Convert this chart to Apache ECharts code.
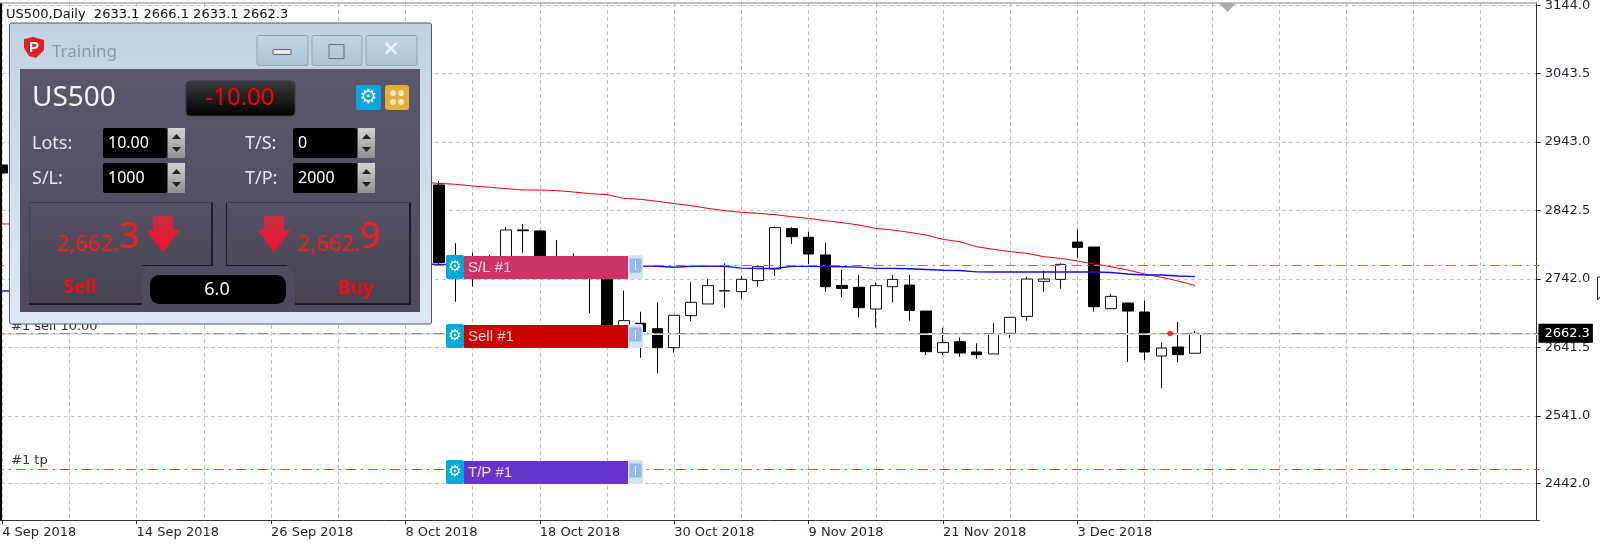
<!DOCTYPE html>
<html>
<head>
<meta charset="utf-8">
<title>US500 Daily</title>
<script src="https://cdn.jsdelivr.net/npm/echarts@6/dist/echarts.min.js"></script>
<style>
html, body { margin: 0; padding: 0; background: #fff; }
#chart { width: 1600px; height: 547px; }
</style>
</head>
<body>
<div id="chart"></div>
<script>
// trading days, the axis keeps running blank to the right of the last bar
const dates = [
  '4 Sep 2018','5 Sep 2018','6 Sep 2018','7 Sep 2018','10 Sep 2018','11 Sep 2018','12 Sep 2018','13 Sep 2018',
  '14 Sep 2018','17 Sep 2018','18 Sep 2018','19 Sep 2018','20 Sep 2018','21 Sep 2018','24 Sep 2018','25 Sep 2018',
  '26 Sep 2018','27 Sep 2018','28 Sep 2018','1 Oct 2018','2 Oct 2018','3 Oct 2018','4 Oct 2018','5 Oct 2018',
  '8 Oct 2018','9 Oct 2018','10 Oct 2018','11 Oct 2018','12 Oct 2018','15 Oct 2018','16 Oct 2018','17 Oct 2018',
  '18 Oct 2018','19 Oct 2018','22 Oct 2018','23 Oct 2018','24 Oct 2018','25 Oct 2018','26 Oct 2018','29 Oct 2018',
  '30 Oct 2018','31 Oct 2018','1 Nov 2018','2 Nov 2018','5 Nov 2018','6 Nov 2018','7 Nov 2018','8 Nov 2018',
  '9 Nov 2018','12 Nov 2018','13 Nov 2018','14 Nov 2018','15 Nov 2018','16 Nov 2018','19 Nov 2018','20 Nov 2018',
  '21 Nov 2018','22 Nov 2018','23 Nov 2018','26 Nov 2018','27 Nov 2018','28 Nov 2018','29 Nov 2018','30 Nov 2018',
  '3 Dec 2018','4 Dec 2018','5 Dec 2018','6 Dec 2018','7 Dec 2018','10 Dec 2018','11 Dec 2018','12 Dec 2018',
  '','','','','','','','','','','','','','','','','','','',''
];

// null = bar sits behind the trading panel, nothing to read
const opens = [2909.4, null, null, null, null, null, null, null, null, null, null, null, null,
  null, null, null, null, null, null, null, null, null, null, null, null, null,
  2880.1, 2770, 2770, 2770, 2765, 2814, 2812.6, 2770, 2770, 2770, 2755, 2670, 2677,
  2669.2, 2641.3, 2688.3, 2705.4, 2724.5, 2723.5, 2739.7, 2756.8, 2816, 2803.3, 2777.3, 2732.7, 2729.8,
  2698, 2730.8, 2733.2, 2695, 2634.4, 2650, 2634.9, 2632, 2662.3, 2687.2, 2738.6, 2741.5, 2796.3,
  2789, 2698.5, 2706.8, 2693.6, 2629, 2642.2, 2633.1];
const closes = [2897.7, null, null, null, null, null, null, null, null, null, null, null, null,
  null, null, null, null, null, null, null, null, null, null, null, null, null,
  2766.1, 2755, 2755, 2755, 2814, 2813, 2765, 2755, 2755, 2755, 2665, 2680.9, 2665,
  2641.3, 2688.8, 2707.8, 2732.3, 2725, 2741.6, 2760.2, 2817.5, 2804.2, 2778.8, 2730.8, 2728.3, 2700,
  2732.3, 2741.5, 2696, 2635.4, 2648.6, 2633.4, 2631, 2661.8, 2685.8, 2742, 2742, 2763.6, 2788.5,
  2701.4, 2716.6, 2695, 2634.9, 2640.7, 2631, 2662.3];
const lows = [2884, null, null, null, null, null, null, null, null, null, null, null, null,
  null, null, null, null, null, null, null, null, null, null, null, null, null,
  2762.6, 2708.8, 2731, 2750, 2760, 2780.8, 2760, 2750, 2750, 2691.7, 2660, 2650, 2626.6,
  2603.6, 2634, 2680.4, 2705.4, 2700, 2712.8, 2730.8, 2746.5, 2793.5, 2764.1, 2723.4, 2715.1, 2685.8,
  2670.6, 2707.8, 2680.9, 2630.5, 2630.5, 2628, 2625, 2632, 2655, 2680.9, 2723.4, 2727.8, 2772.9,
  2694, 2698.5, 2620.2, 2623, 2581.5, 2620, 2633.1];
const highs = [2924, null, null, null, null, null, null, null, null, null, null, null, null,
  null, null, null, null, null, null, null, null, null, null, null, null, null,
  2886, 2794.5, 2781, 2777.8, 2818, 2822.8, 2813, 2799.4, 2779.8, 2773, 2760, 2725, 2694,
  2707.8, 2688.8, 2737.2, 2742.1, 2765, 2746.5, 2761, 2819, 2818, 2811.6, 2795.4, 2755.2, 2747.9,
  2737.1, 2747.9, 2747.9, 2695, 2670.6, 2656.4, 2647.6, 2677, 2685.8, 2745.5, 2754.3, 2765, 2815,
  2789, 2720, 2706.8, 2710.2, 2649, 2679, 2666.1];

const redAvg = [2822.8, 2823, null, null, null, null, null, null, null, null, null, null, null,
  null, null, null, null, null, null, null, null, null, null, null, null, 2884,
  2882.5, 2881, 2878.6, 2876.7, 2874.7, 2872.7, 2872.7, 2871.8, 2869.8, 2867.4, 2865.9, 2860.5, 2859,
  2856.1, 2852.7, 2849.7, 2845.8, 2842.4, 2840, 2838.5, 2836.5, 2833.6, 2831, 2827.7, 2824.7, 2821.3,
  2816.4, 2814, 2810.5, 2806.6, 2800.3, 2796.8, 2789.5, 2785.6, 2782.2, 2779.7, 2774.8, 2772.4, 2768.5,
  2764.1, 2760.1, 2755.2, 2749.4, 2744.5, 2739.1, 2732.7];
const blueAvg = [2724.4, 2724.6, null, null, null, null, null, null, null, null, null, null, null,
  null, null, null, null, null, null, null, null, null, null, null, null, 2764,
  2763.6, 2763, null, null, null, null, null, null, null, null, null, null, 2761,
  2760.7, 2759.4, 2760.8, 2760.8, 2760.8, 2758, 2757.5, 2757.5, 2760.6, 2760.6, 2760.3, 2760.1, 2759.5,
  2757.7, 2757.6, 2757, 2756, 2754.8, 2754.5, 2752.5, 2752.3, 2752.3, 2752.3, 2752.3, 2752.3, 2752.3,
  2752.3, 2751.5, 2749.4, 2748, 2748, 2746.5, 2745.5];

const priceTicks = [3144, 3043.5, 2943, 2842.5, 2742, 2641.5, 2541, 2442];
const slLevel = 2761.7;
const tpLevel = 2462.6;
const sellLevel = 2662.3;
const sellMark = [['11 Dec 2018', 2662]];

const candles = opens.map((o, i) => o === null ? ['-', '-', '-', '-'] : [o, closes[i], lows[i], highs[i]]);

// ---- panel and order boxes are plain drawing on top of the chart
const els = [];
const Z = 50;
function rect(x, y, w, h, fill, r, stroke) {
  els.push({ type: 'rect', z: Z, shape: { x, y, width: w, height: h, r: r || 0 },
    style: { fill, stroke: stroke || null, lineWidth: stroke ? 1 : 0 } });
}
function text(s, x, y, font, fill, align) {
  els.push({ type: 'text', z: Z, style: { text: s, x, y, font, fill, textAlign: align || 'left', textVerticalAlign: 'middle' } });
}
function poly(points, fill) {
  els.push({ type: 'polygon', z: Z, shape: { points }, style: { fill } });
}
function vgrad(a, b) {
  return { type: 'linear', x: 0, y: 0, x2: 0, y2: 1, colorStops: [{ offset: 0, color: a }, { offset: 1, color: b }] };
}
function downArrow(x, y) {
  poly([[x + 7, y], [x + 27, y], [x + 27, y + 14], [x + 34, y + 14], [x + 17, y + 36], [x, y + 14], [x + 7, y + 14]],
    vgrad('#c43040', '#f0102a'));
}
function spinner(x, y) {
  rect(x, y, 17, 30, vgrad('#d4d4d4', '#8e8e8e'));
  poly([[x + 4, y + 11], [x + 13, y + 11], [x + 8.5, y + 6]], '#222');
  poly([[x + 4, y + 19], [x + 13, y + 19], [x + 8.5, y + 24]], '#222');
}
function gearIcon(x, y, w, h, fill, size) {
  rect(x, y, w, h, fill, 2);
  text('\u2699', x + w / 2, y + h / 2, 'bold ' + size + 'px "DejaVu Sans"', '#fff', 'center');
}
function orderBox(y, label, fill) {
  rect(628, y, 15, 24, '#d2e4f8', 2);
  rect(629, y + 3, 13, 15, '#93b8ea', 2, '#cfe0f6');
  els.push({ type: 'line', z: Z, shape: { x1: 635.5, y1: y + 6, x2: 635.5, y2: y + 15 }, style: { stroke: '#fff', lineWidth: 1 } });
  rect(464, y + 1, 164, 23, fill);
  gearIcon(446, y, 18, 24, '#00a8dc', 15);
  text(label, 468, y + 13, '15px "Liberation Sans"', '#f6dde3');
}

// window
rect(9.5, 23, 422, 301, vgrad('#c0d2e2', '#dce8f4'), 2, '#4e5a64');
poly([[24, 39], [33, 37], [44, 40], [44, 50], [36, 58], [29, 56], [24, 48]], '#e02020');
text('P', 34, 48, 'bold 15px "Liberation Sans"', '#fff', 'center');
text('Training', 52, 52, '17px "Noto Sans"', '#8c98a4');
rect(257, 35.5, 51, 30, vgrad('#c2d4e4', '#aec2d6'), 2, '#8fa3b8');
rect(312, 35.5, 50, 30, vgrad('#c2d4e4', '#aec2d6'), 2, '#8fa3b8');
rect(366, 35.5, 51, 30, vgrad('#c2d4e4', '#aec2d6'), 2, '#8fa3b8');
rect(273, 49.5, 18, 5, '#e8e8e8', 1, '#5c6670');
rect(329, 44.5, 15, 14, 'rgba(0,0,0,0)', 0, '#6a7076');
text('\u2715', 391, 51, 'bold 21px "DejaVu Sans"', '#f2f2f2', 'center');

// dark body
rect(20, 69, 400, 243, vgrad('#5b566a', '#4f4a5c'));
text('US500', 32, 98, '28px "Noto Sans"', '#f2f2f6');
rect(186, 81, 109, 35, vgrad('#3c3c3c', '#000'), 4, '#3a3a44');
text('-10.00', 240, 98, '24px "Noto Sans"', '#ff0000', 'center');
gearIcon(356, 85, 25, 25, '#0aa6e0', 20);
rect(385, 85, 24, 25, '#e4ae3a', 3);
[[393, 93], [401, 93], [393, 102], [401, 102]].forEach(p => {
  els.push({ type: 'circle', z: Z, shape: { cx: p[0], cy: p[1], r: 3 }, style: { fill: '#f8e8c0' } });
});

[['Lots:', 32, 144], ['S/L:', 32, 179], ['T/S:', 245, 144], ['T/P:', 245, 179]].forEach(l => {
  text(l[0], l[1], l[2], '18px "Noto Sans"', '#e6e6f0');
});
[[103, 128, '10.00'], [103, 163, '1000'], [293, 128, '0'], [293, 163, '2000']].forEach(b => {
  rect(b[0], b[1], 64, 30, '#000', 2);
  text(b[2], b[0] + 5, b[1] + 15, '16px "Noto Sans"', '#fff');
  spinner(b[0] + 65, b[1]);
});

// sell / buy buttons with the notch for the spread box
poly([[29, 203], [212, 203], [212, 266], [150, 266], [142, 276], [142, 304], [29, 304]], vgrad('#575264', '#48434f'));
poly([[226, 203], [411, 203], [411, 304], [295, 304], [295, 276], [287, 266], [226, 266]], vgrad('#575264', '#48434f'));
rect(29, 202, 183, 1, '#3f3b48');
rect(226, 202, 185, 1, '#3f3b48');
rect(29, 203, 1, 101, '#46424f');
rect(226, 203, 1, 63, '#1c1a22');
rect(142, 265, 70, 1, '#1c1a22');
rect(226, 265, 61, 1, '#1c1a22');
rect(211, 203, 2, 63, '#1c1a22');
rect(409, 203, 2, 101, '#1c1a22');
rect(29, 303, 113, 2, '#1c1a22');
rect(295, 303, 116, 2, '#1c1a22');
rect(150, 275, 136, 29, '#000', 9);
text('6.0', 217, 290, '18px "Noto Sans"', '#f4f4f4', 'center');
text('2,662.', 57, 245, '22px "Noto Sans"', '#ff1a1a');
text('3', 119, 238, '36px "Noto Sans"', '#ff1a1a');
downArrow(146, 216);
downArrow(257, 216);
text('2,662.', 298, 245, '22px "Noto Sans"', '#ff1a1a');
text('9', 360, 238, '36px "Noto Sans"', '#ff1a1a');
text('Sell', 80, 288, 'bold 19px "Noto Sans"', '#f01010', 'center');
text('Buy', 356, 289, 'bold 19px "Noto Sans"', '#f01010', 'center');

orderBox(255, 'S/L #1', '#cc3366');
orderBox(324, 'Sell #1', '#cc0000');
orderBox(460, 'T/P #1', '#6633cc');

// frame bits around the plot
rect(0, 3, 2, 517, '#000');
rect(0, 2.5, 1537, 1, '#888');
poly([[1219, 3], [1236, 3], [1227.5, 12]], '#a9a9a9');
els.push({ type: 'polyline', z: Z, shape: { points: [[1600, 277], [1597.5, 277], [1597.5, 300], [1600, 297]] }, style: { stroke: '#222', fill: null, lineWidth: 1 } });

const labelFont = { fontFamily: 'DejaVu Sans', fontSize: 13, color: '#1c2230' };
const onTickDay = (i, name) => name !== '' && i % 8 === 0;

els.unshift(
  { type: 'text', z: Z - 1, style: { text: 'US500,Daily  2633.1 2666.1 2633.1 2662.3', x: 6, y: 15, font: '13px "DejaVu Sans"', fill: '#111', textVerticalAlign: 'middle' } },
  { type: 'text', z: Z - 1, style: { text: '#1 sell 10.00', x: 11, y: 327, font: '13px "DejaVu Sans"', fill: '#333', textVerticalAlign: 'middle' } },
  { type: 'text', z: Z - 1, style: { text: '#1 tp', x: 11, y: 461, font: '13px "DejaVu Sans"', fill: '#333', textVerticalAlign: 'middle' } }
);

const chart = echarts.init(document.getElementById('chart'));
chart.setOption({
  animation: false,
  backgroundColor: '#fff',
  grid: { left: -6.2, top: 3, width: 1545.6, height: 517, outerBoundsMode: 'none' },
  xAxis: {
    type: 'category',
    data: dates,
    axisLine: { lineStyle: { color: '#333', width: 1 } },
    axisTick: { show: true, interval: onTickDay, alignWithLabel: true, length: 4, lineStyle: { color: '#222' } },
    axisLabel: Object.assign({ interval: onTickDay, align: 'left', margin: 6, showMinLabel: true }, labelFont),
    splitLine: { show: true, interval: 3, alignWithLabel: true, lineStyle: { color: '#c4c4c4', type: [4, 3], width: 1 } }
  },
  yAxis: {
    type: 'value',
    position: 'right',
    offset: -2.7,
    min: 2388.3,
    max: 3147.2,
    axisLine: { show: true, lineStyle: { color: '#333', width: 1 } },
    axisTick: { show: true, customValues: priceTicks, length: 4, lineStyle: { color: '#222' } },
    axisLabel: Object.assign({ customValues: priceTicks, margin: 8, padding: [3, 0, 0, 0], formatter: v => v.toFixed(1) }, labelFont),
    splitLine: { show: true, lineStyle: { color: '#c8c8c8', type: [4, 3], width: 1 } }
  },
  graphic: { elements: els },
  series: [
    {
      type: 'candlestick',
      data: candles,
      barWidth: 11,
      itemStyle: { color: '#fff', color0: '#000', borderColor: '#111', borderColor0: '#000', borderWidth: 1 },
      markLine: {
        silent: true,
        symbol: 'none',
        animation: false,
        data: [
          { yAxis: sellLevel, lineStyle: { color: '#dcdcdc', type: 'solid', width: 2 },
            label: { show: true, position: 'end', distance: -1, formatter: sellLevel.toFixed(1), color: '#fff',
              backgroundColor: '#000', padding: [3, 3, 3, 6], fontFamily: 'DejaVu Sans', fontSize: 13 } },
          { yAxis: sellLevel, lineStyle: { color: '#6f9f6f', type: [10, 5, 2, 5], width: 1 }, label: { show: false } },
          { yAxis: slLevel, lineStyle: { color: '#ff5030', type: [10, 5, 2, 5], width: 1 }, label: { show: false } },
          { yAxis: tpLevel, lineStyle: { color: '#ff4010', type: [10, 5, 2, 5], width: 1 }, label: { show: false } }
        ]
      }
    },
    { type: 'line', data: redAvg, showSymbol: false, connectNulls: false, lineStyle: { color: '#f50000', width: 1 } },
    { type: 'line', data: blueAvg, showSymbol: false, connectNulls: false, lineStyle: { color: '#1010f0', width: 1.4 } },
    { type: 'scatter', z: 5, data: sellMark, symbol: 'pin', symbolSize: 9, symbolRotate: 90, symbolOffset: [-3, 0], itemStyle: { color: '#ff0000' } }
  ]
});
</script>
</body>
</html>
